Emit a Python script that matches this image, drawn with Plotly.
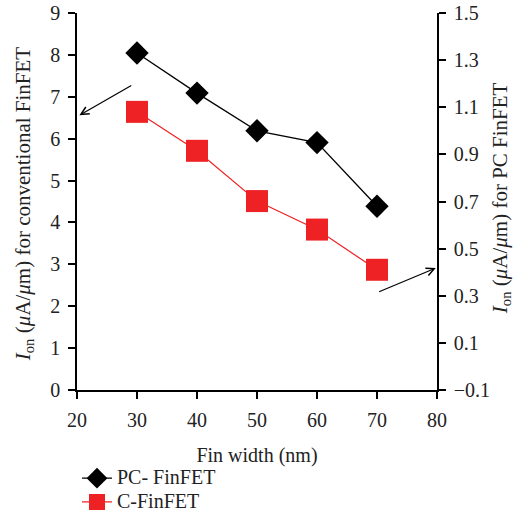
import plotly.graph_objects as go

fin_width = [30, 40, 50, 60, 70]
pc_finfet = [1.33, 1.16, 1.00, 0.95, 0.68]
c_finfet = [6.64, 5.71, 4.51, 3.83, 2.87]
x_ticks = [20, 30, 40, 50, 60, 70, 80]
left_ticks = [0, 1, 2, 3, 4, 5, 6, 7, 8, 9]
right_ticks = [-0.1, 0.1, 0.3, 0.5, 0.7, 0.9, 1.1, 1.3, 1.5]
series_names = ["PC- FinFET", "C-FinFET"]

FONT = "Liberation Serif"
FS = 20

def legend_label(name):
    return f'<span style="font-size:20px">{name}</span>'

fig = go.Figure()
fig.add_trace(go.Scatter(
    x=fin_width, y=pc_finfet, name=legend_label(series_names[0]), yaxis="y2",
    mode="lines+markers",
    line=dict(color="black", width=1.3),
    marker=dict(symbol="diamond", size=18, color="black"),
    cliponaxis=False,
))
fig.add_trace(go.Scatter(
    x=fin_width, y=c_finfet, name=legend_label(series_names[1]),
    mode="lines+markers",
    line=dict(color="#EE2224", width=1.2),
    marker=dict(symbol="square", size=22, color="#EE2224"),
    cliponaxis=False,
))

axis_common = dict(
    showgrid=False, zeroline=False, showline=True, linecolor="black", linewidth=1.5,
    ticks="outside", ticklen=7, tickwidth=1.5, tickcolor="black", automargin=False,
    ticklabeloverflow="allow", ticklabelstandoff=4,
    tickfont=dict(family=FONT, size=FS, color="#222"),
)

fig.update_layout(
    width=515, height=531,
    margin=dict(l=77, r=78, t=13, b=137),
    paper_bgcolor="white", plot_bgcolor="white",
    font=dict(family=FONT, size=FS, color="#222"),
    xaxis=dict(range=[20, 80], tickvals=x_ticks,
               title=dict(text="Fin width (nm)", font=dict(family=FONT, size=FS), standoff=18),
               **axis_common),
    yaxis=dict(range=[0, 9], tickvals=left_ticks, **axis_common),
    yaxis2=dict(range=[-0.1, 1.5], tickvals=right_ticks, tickformat=".1f",
                overlaying="y", side="right", anchor="x", **axis_common),
    legend=dict(x=0.0, y=-0.189, xanchor="left", yanchor="top",
                font=dict(family=FONT, size=16, color="#222"),
                bgcolor="rgba(0,0,0,0)", tracegroupgap=0),
    showlegend=True,
)

fig.add_annotation(text="<i>I</i><sub>on</sub> (<i>μ</i>A/<i>μ</i>m) for conventional FinFET",
                   xref="paper", yref="paper", x=-0.147, y=0.493, textangle=-90,
                   showarrow=False, font=dict(family=FONT, size=21, color="#222"),
                   xanchor="center", yanchor="middle")
fig.add_annotation(text="<i>I</i><sub>on</sub> (<i>μ</i>A/<i>μ</i>m) for PC FinFET",
                   xref="paper", yref="paper", x=1.178, y=0.509, textangle=-90,
                   showarrow=False, font=dict(family=FONT, size=21, color="#222"),
                   xanchor="center", yanchor="middle")

fig.add_annotation(x=20.4, y=6.56, ax=29.3, ay=7.29, xref="x", yref="y", axref="x", ayref="y",
                   showarrow=True, arrowhead=5, arrowsize=1.3, arrowwidth=1.2, arrowcolor="black", text="")
fig.add_annotation(x=79.8, y=2.91, ax=70.1, ay=2.33, xref="x", yref="y", axref="x", ayref="y",
                   showarrow=True, arrowhead=5, arrowsize=1.3, arrowwidth=1.2, arrowcolor="black", text="")

fig.write_html("out.html", config={"displayModeBar": False},
               post_script="document.body.style.margin='0px';")
